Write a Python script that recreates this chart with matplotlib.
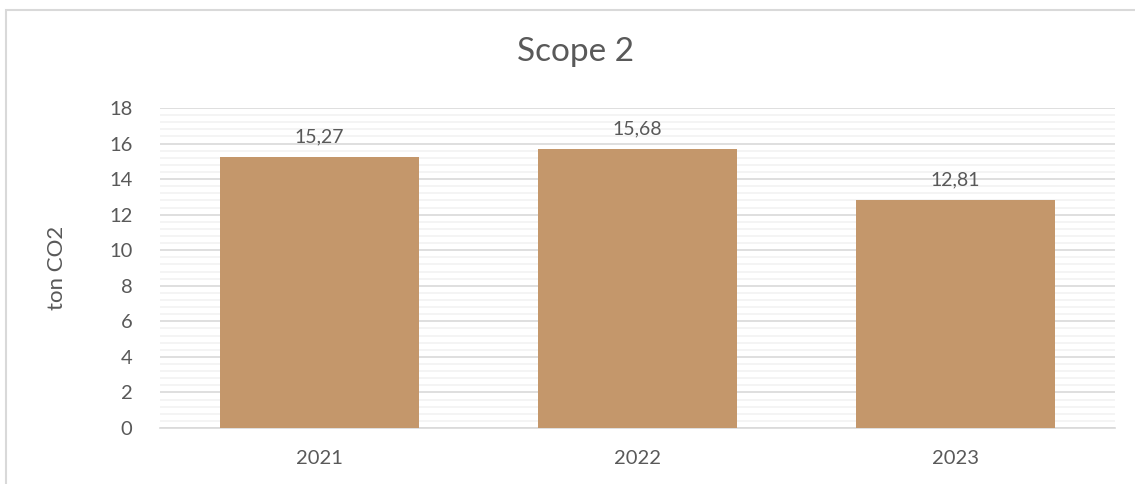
import matplotlib.pyplot as plt
from matplotlib.ticker import MultipleLocator
from matplotlib.patches import Rectangle

plt.rcParams['font.family'] = ['Lato', 'DejaVu Sans']

# data
years = ["2021", "2022", "2023"]
emissions = [15.27, 15.68, 12.81]
labels = ["15,27", "15,68", "12,81"]

text_color = "#595959"
bar_color = "#C4976B"

fig = plt.figure(figsize=(11.35, 4.84), dpi=100)
ax = fig.add_axes([0.141, 0.1157, 0.841, 0.6612])

x = range(len(years))
bars = ax.bar(x, emissions, width=0.626, color=bar_color, zorder=3)

for b, lab in zip(bars, labels):
    ax.text(b.get_x() + b.get_width() / 2, b.get_height() + 0.65, lab,
            ha="center", va="bottom", fontsize=14, color=text_color)

ax.set_xlim(-0.5, len(years) - 0.5)
ax.set_ylim(0, 18)
ax.set_xticks(list(x))
ax.set_xticklabels(years)
ax.yaxis.set_major_locator(MultipleLocator(2))
ax.yaxis.set_minor_locator(MultipleLocator(0.4))

ax.grid(axis="y", which="major", color="#D9D9D9", linewidth=1.2, zorder=0)
ax.grid(axis="y", which="minor", color="#F2F2F2", linewidth=1.2, zorder=0)

for s in ["top", "right", "left"]:
    ax.spines[s].set_visible(False)
ax.spines["bottom"].set_color("#D9D9D9")
ax.spines["bottom"].set_linewidth(1.2)

ax.tick_params(axis="both", which="both", length=0, labelsize=14.5, colors=text_color)
ax.tick_params(axis="x", pad=16)
ax.tick_params(axis="y", pad=20)

ax.set_ylabel("ton CO2", fontsize=16, color=text_color, labelpad=30)
fig.text(0.507, 0.892, "Scope 2", ha="center", va="center", fontsize=24, color=text_color)

# chart frame
fig.patches.append(Rectangle((6 / 1135, -0.1), 1.2, 1.1 - 10 / 484, transform=fig.transFigure,
                             fill=False, edgecolor="#D9D9D9", linewidth=1.5))

fig.savefig("out.png", dpi=100)
